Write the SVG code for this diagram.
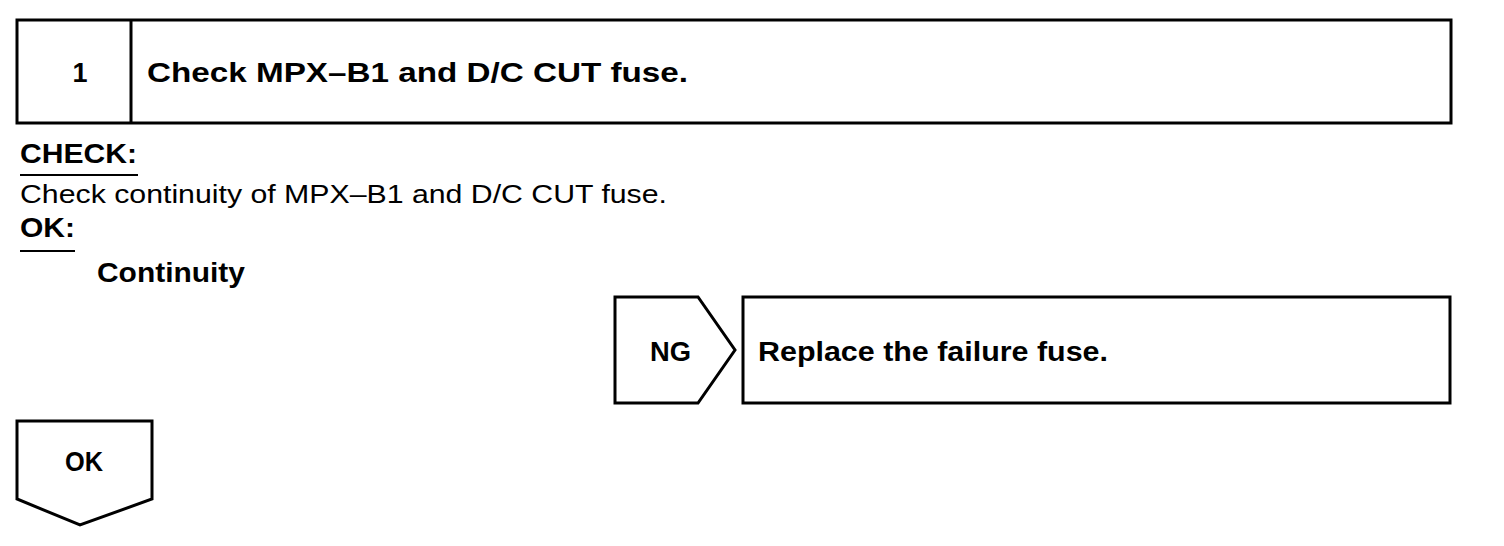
<svg xmlns="http://www.w3.org/2000/svg" width="1504" height="546" viewBox="0 0 1504 546">
<style>
.box{fill:none;stroke:#000;stroke-width:3;stroke-linejoin:miter}
.b{font-family:"Liberation Sans",Arial,sans-serif;font-weight:bold;font-size:27px;fill:#000}
.r{font-family:"Liberation Sans",Arial,sans-serif;font-size:26px;fill:#000}
.ul{stroke:#000;stroke-width:2}
</style>
<rect width="1504" height="546" fill="#fff"/>
<g id="step1">
<rect class="box" x="17" y="20" width="1434" height="103"/>
<line class="box" x1="131" y1="20" x2="131" y2="123"/>
<text class="b" x="80" y="82" text-anchor="middle">1</text>
<text class="b" x="147" y="82" textLength="541" lengthAdjust="spacingAndGlyphs">Check MPX–B1 and D/C CUT fuse.</text>
</g>
<g id="check">
<text class="b" x="20" y="163" textLength="117" lengthAdjust="spacingAndGlyphs">CHECK:</text>
<line class="ul" x1="20" y1="175" x2="138" y2="175"/>
<text class="r" x="20" y="203" textLength="647" lengthAdjust="spacingAndGlyphs">Check continuity of MPX–B1 and D/C CUT fuse.</text>
<text class="b" x="20" y="237" textLength="55" lengthAdjust="spacingAndGlyphs">OK:</text>
<line class="ul" x1="20" y1="251" x2="75" y2="251"/>
<text class="b" x="97" y="282" textLength="148" lengthAdjust="spacingAndGlyphs">Continuity</text>
</g>
<g id="ng">
<path class="box" d="M615,297 H698 L735,350 L698,403 H615 Z"/>
<text class="b" x="650" y="361" textLength="41" lengthAdjust="spacingAndGlyphs">NG</text>
</g>
<g id="replace">
<rect class="box" x="743" y="297" width="707" height="106"/>
<text class="b" x="758" y="361" textLength="350" lengthAdjust="spacingAndGlyphs">Replace the failure fuse.</text>
</g>
<g id="ok">
<path class="box" d="M17,421 H152 V499 L80,525 L17,499 Z"/>
<text class="b" x="65" y="471" textLength="38" lengthAdjust="spacingAndGlyphs">OK</text>
</g>
<g id="connectors"></g>
</svg>
